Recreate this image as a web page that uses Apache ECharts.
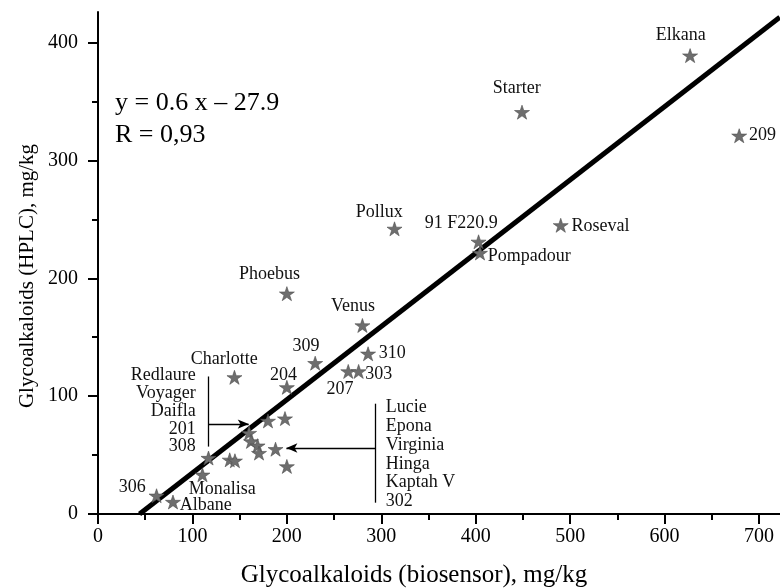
<!DOCTYPE html>
<html>
<head>
<meta charset="utf-8">
<script src="https://cdn.jsdelivr.net/npm/echarts@6/dist/echarts.min.js"></script>
<style>html,body{margin:0;padding:0;background:#fff}#c{width:780px;height:588px}</style>
</head>
<body>
<div id="c"></div>
<script>
// ---- data ----
const varieties = ['Elkana','Starter','209','Pollux','91 F220.9','Pompadour','Roseval','Phoebus','Venus','310','309','207','303','Charlotte','204',
  'Redlaure','Voyager','Daifla','201','308','Lucie','Epona','Virginia','Hinga','Kaptah V','302','Monalisa','306','Albane'];
const biosensor = [627,449,679,314,403,404.5,490,200,280,286,230,265,276,144.5,200,
  180,160,162,139.5,117,198,169,188,170.5,145,200,110.6,62,79.4];
const hplc = [389,341,321,242,231,221.5,245,187,160,136,128,121,121,116,107.5,
  79,68.7,61.6,46,47.5,81,58,55,51.7,45.2,40.4,33.3,15.5,10.2];
const fitX = [44, 722];
const fitY = [0, 421.5];
const xTicks = [0,100,200,300,400,500,600,700];
const xMinorTicks = [50,150,250,350,450,550,650];
const yTicks = [0,100,200,300,400];
const yMinorTicks = [50,150,250,350];
const leftGroup = ['Redlaure','Voyager','Daifla','201','308'];
const rightGroup = ['Lucie','Epona','Virginia','Hinga','Kaptah V','302'];
const equationText = ['y = 0.6 x \u2013 27.9', 'R = 0,93'];
const xTitle = 'Glycoalkaloids (biosensor), mg/kg';
const yTitle = 'Glycoalkaloids (HPLC), mg/kg';

// ---- layout / style (not data) ----
const FONT = '"Liberation Serif","Times New Roman",serif';
const labelLayout = {
  'Elkana':['center',-9,-20], 'Starter':['center',-5,-24], '209':['left',10,0],
  'Pollux':['center',-15,-16], '91 F220.9':['center',-17,-18], 'Pompadour':['left',8,4],
  'Roseval':['left',11,1], 'Phoebus':['center',-17,-19], 'Venus':['center',-9,-19],
  '310':['left',11,0], '309':['center',-9,-17], '303':['left',7,3], '207':['center',-8,18],
  'Charlotte':['center',-10,-18], '204':['center',-3,-12], '306':['center',-24,-8],
  'Monalisa':['center',20,15], 'Albane':['left',7,4]
};
const SYM = [15, 14];
const starPath = 'path://M0,-10L2.245,-3.09L9.511,-3.09L3.633,1.18L5.878,8.09L0,3.82L-5.878,8.09L-3.633,1.18L-9.511,-3.09L-2.245,-3.09Z';

const chart = echarts.init(document.getElementById('c'), null, {renderer:'canvas'});

const pts = varieties.map((n, i) => {
  const l = labelLayout[n];
  return {
    name: n, value: [biosensor[i], hplc[i]],
    label: l ? {show:true, position:[SYM[0]/2 + l[1], SYM[1]/2 + l[2]], align:l[0], verticalAlign:'middle',
      color:'#111', fontSize:18, fontFamily:FONT, formatter:'{b}', textBorderWidth:0, opacity:1} : {show:false}
  };
});

const axisBase = {
  type:'value', min:0,
  axisLine:{show:true, onZero:false, lineStyle:{color:'#000', width:2}},
  splitLine:{show:false},
};

const option = {
  animation:false,
  backgroundColor:'#fff',
  grid:{left:98, right:0, top:12, bottom:74, containLabel:false},
  xAxis:[
    Object.assign({}, axisBase, {max:722.2, interval:100,
      axisTick:{show:true, length:10, lineStyle:{color:'#000', width:2}, customValues:xTicks},
      axisLabel:{show:true, customValues:xTicks, margin:13, color:'#000', fontSize:20, fontFamily:FONT}}),
    Object.assign({}, axisBase, {max:722.2, interval:50, position:'bottom',
      axisLine:{show:false},
      axisTick:{show:true, length:6, lineStyle:{color:'#000', width:2}, customValues:xMinorTicks},
      axisLabel:{show:false}})
  ],
  yAxis:[
    Object.assign({}, axisBase, {max:426, interval:100,
      axisTick:{show:true, length:10, lineStyle:{color:'#000', width:2}, customValues:yTicks},
      axisLabel:{show:true, customValues:yTicks, margin:20, color:'#000', fontSize:20, fontFamily:FONT}}),
    Object.assign({}, axisBase, {max:426, interval:50, position:'left',
      axisLine:{show:false},
      axisTick:{show:true, length:6, lineStyle:{color:'#000', width:2}, customValues:yMinorTicks},
      axisLabel:{show:false}})
  ],
  series:[
    {
      type:'line', name:'fit', data: fitX.map((x,i)=>[x, fitY[i]]),
      showSymbol:false, symbol:'none', clip:true,
      lineStyle:{color:'#000', width:5}, silent:true, z:3,
      markLine:{
        silent:true, symbol:['none','none'], animation:false,
        label:{show:false},
        lineStyle:{color:'#000', width:1.3, type:'solid'},
        data:[
          [{coord:[117.2,116.7]},{coord:[117.2,57.2]}],
          [{coord:[117.2,76.3]},{coord:[159.6,76.3], symbol:'arrow', symbolSize:[7,11]}],
          [{coord:[294.1,93.6]},{coord:[294.1,9.6]}],
          [{coord:[294.1,56.0]},{coord:[199.5,56.0], symbol:'arrow', symbolSize:[7,11]}]
        ]
      }
    },
    {
      type:'scatter', name:'varieties', data:pts,
      symbol:starPath, symbolSize:SYM, z:4,
      itemStyle:{color:'#6e6e6e', borderColor:'#4f4f4f', borderWidth:0.6, opacity:1},
      label:{color:'#111', fontSize:18, fontFamily:FONT, formatter:'{b}'},
      emphasis:{disabled:true},
      labelLayout:{hideOverlap:false}
    }
  ]
};
chart.setOption(option);

function px(x, y){ return chart.convertToPixel({xAxisIndex:0, yAxisIndex:0}, [x, y]); }
const lp = px(103.5, 87.4);
const rp = px(304.7, 50.5);
chart.setOption({
  graphic:[
    {type:'text', x:lp[0], y:lp[1], style:{text:leftGroup.join('\n'), font:'18px '+FONT, fill:'#111', align:'right', verticalAlign:'middle', lineHeight:17.8}},
    {type:'text', x:rp[0], y:rp[1], style:{text:rightGroup.join('\n'), font:'18px '+FONT, fill:'#111', align:'left', verticalAlign:'middle', lineHeight:18.8}},
    {type:'text', x:115, y:103, style:{text:equationText[0], font:'26px '+FONT, fill:'#000', align:'left', verticalAlign:'middle'}},
    {type:'text', x:115, y:135, style:{text:equationText[1], font:'26px '+FONT, fill:'#000', align:'left', verticalAlign:'middle'}},
    {type:'text', x:414, y:575, style:{text:xTitle, font:'25px '+FONT, fill:'#000', align:'center', verticalAlign:'middle'}},
    {type:'text', x:27, y:276, rotation:Math.PI/2, style:{text:yTitle, font:'21px '+FONT, fill:'#000', align:'center', verticalAlign:'middle'}}
  ]
});
</script>
</body>
</html>
